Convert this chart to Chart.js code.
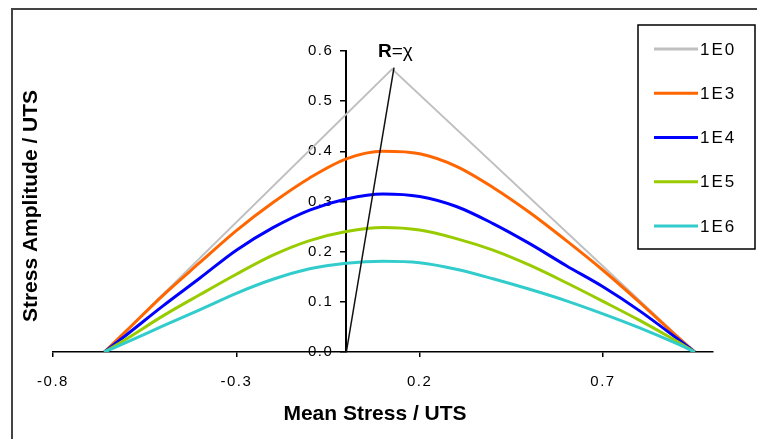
<!DOCTYPE html>
<html>
<head>
<meta charset="utf-8">
<script src="https://cdn.jsdelivr.net/npm/chart.js@4.4.1/dist/chart.umd.min.js"></script>
<style>
    html, body { margin: 0; padding: 0; background: #fff; }
    #wrap { width: 757px; height: 439px; }
</style>
</head>
<body>
<div id="wrap"><canvas id="chart" width="757" height="439"></canvas></div>
<script>
// Data ------------------------------------------------------------------------------

const meanStress = [-0.66, -0.6, -0.5, -0.4, -0.3, -0.2, -0.1, 0.0, 0.1, 0.2, 0.3, 0.4, 0.5, 0.6, 0.7, 0.8, 0.9, 0.95];
const amp1E3 = [0, 0.042, 0.113, 0.178, 0.242, 0.298, 0.347, 0.385, 0.400, 0.395, 0.370, 0.328, 0.278, 0.222, 0.163, 0.099, 0.032, 0];
const amp1E4 = [0, 0.034, 0.092, 0.147, 0.203, 0.248, 0.283, 0.305, 0.315, 0.310, 0.290, 0.256, 0.216, 0.172, 0.130, 0.082, 0.028, 0];
const amp1E5 = [0, 0.026, 0.072, 0.114, 0.155, 0.193, 0.222, 0.240, 0.248, 0.243, 0.226, 0.203, 0.173, 0.138, 0.101, 0.063, 0.022, 0];
const amp1E6 = [0, 0.019, 0.052, 0.084, 0.117, 0.145, 0.166, 0.177, 0.181, 0.178, 0.165, 0.146, 0.125, 0.102, 0.076, 0.048, 0.017, 0];

// 1E0 is the straight triangle
const meanStress1E0 = [-0.66, 0.125, 0.95];
const amp1E0 = [0, 0.564, 0];

// R = chi line out of the origin
const rLineX = [0, 0.13];
const rLineY = [0, 0.567];

const seriesLabels = ['1E0', '1E3', '1E4', '1E5', '1E6'];
const seriesColors = ['#c0c0c0', '#ff6600', '#0000ff', '#99cc00', '#33cccc'];

const xTicks = [-0.8, -0.3, 0.2, 0.7];
const yTicks = [0.0, 0.1, 0.2, 0.3, 0.4, 0.5, 0.6];

// Helpers ---------------------------------------------------------------------------

let toPoints = function (xs, ys) {
    return xs.map(function (x, i) {
        return {x: x, y: ys[i]};
    });
};

let series = [
    toPoints(meanStress1E0, amp1E0),
    toPoints(meanStress, amp1E3),
    toPoints(meanStress, amp1E4),
    toPoints(meanStress, amp1E5),
    toPoints(meanStress, amp1E6)
];

let datasets = series.map(function (pts, i) {
    return {
        label: seriesLabels[i],
        data: pts,
        borderColor: seriesColors[i],
        borderWidth: i === 0 ? 2 : 3,
        pointRadius: 0,
        cubicInterpolationMode: i === 0 ? 'default' : 'monotone',
        tension: 0,
        order: 5 - i
    };
});

datasets.push({
    label: 'R',
    data: toPoints(rLineX, rLineY),
    borderColor: '#111',
    borderWidth: 1.5,
    pointRadius: 0,
    order: 0
});

// Overlay: frame, titles, R label, legend box ------------------------------------------

const TICK_SPACING = '1.5px';
const Y_LABEL_GAP = 13;

let overlay = {
    id: 'overlay',
    beforeUpdate: function (chart) {
        chart.ctx.letterSpacing = TICK_SPACING;
    },
    afterLayout: function (chart) {
        // a y axis placed at x=0 ignores ticks.padding, so push its labels left here
        chart.scales.y.getLabelItems().forEach(function (item) {
            item.options.translation[0] -= Y_LABEL_GAP;
        });
    },
    beforeDraw: function (chart) {
        let ctx = chart.ctx;
        ctx.letterSpacing = TICK_SPACING;
        ctx.save();
        ctx.strokeStyle = '#444';
        ctx.lineWidth = 2;
        ctx.strokeRect(12, 9, 800, 500);
        ctx.restore();
    },
    afterDraw: function (chart) {
        let ctx = chart.ctx;
        let xs = chart.scales.x;
        let ys = chart.scales.y;

        ctx.save();
        ctx.letterSpacing = '0px';
        ctx.fillStyle = '#000';

        // axis titles
        ctx.font = 'bold 21px Arial';
        ctx.textAlign = 'center';
        ctx.textBaseline = 'middle';
        ctx.fillText('Mean Stress / UTS', 375, 414);
        ctx.save();
        ctx.translate(31, 206);
        ctx.rotate(-Math.PI / 2);
        ctx.fillText('Stress Amplitude / UTS', 0, 0);
        ctx.restore();

        // R = chi label above the end of the line
        let lx = xs.getPixelForValue(rLineX[1]) - 16;
        let ly = ys.top + 6;
        ctx.textAlign = 'left';
        ctx.textBaseline = 'alphabetic';
        ctx.font = 'bold 19px Arial';
        ctx.fillText('R', lx, ly);
        let w = ctx.measureText('R').width;
        ctx.font = '19px Arial';
        ctx.fillText('=\u03c7', lx + w, ly);

        // legend
        ctx.fillStyle = '#fff';
        ctx.fillRect(638, 25, 117, 224);
        ctx.strokeStyle = '#000';
        ctx.lineWidth = 1.5;
        ctx.strokeRect(638, 25, 117, 224);

        ctx.font = '17px Arial';
        ctx.letterSpacing = '2px';
        ctx.textBaseline = 'middle';
        seriesLabels.forEach(function (label, i) {
            let cy = 49 + i * 44.25;
            ctx.strokeStyle = seriesColors[i];
            ctx.lineWidth = 3;
            ctx.beginPath();
            ctx.moveTo(654, cy);
            ctx.lineTo(698, cy);
            ctx.stroke();
            ctx.fillStyle = '#000';
            ctx.fillText(label, 700, cy + 1);
        });

        ctx.restore();
    }
};

// Chart -----------------------------------------------------------------------------

let tickFont = {family: 'Arial', size: 15};

new Chart(document.getElementById('chart').getContext('2d'), {
    type: 'line',
    data: {datasets: datasets},
    plugins: [overlay],
    options: {
        responsive: false,
        animation: false,
        layout: {padding: {left: 53, right: 44, top: 51, bottom: 0}},
        plugins: {
            legend: {display: false},
            tooltip: {enabled: false}
        },
        scales: {
            x: {
                type: 'linear',
                min: -0.8,
                max: 1.0,
                afterBuildTicks: function (scale) {
                    scale.ticks = xTicks.map(function (v) { return {value: v}; });
                },
                afterFit: function (scale) {
                    scale.height = 87;
                },
                grid: {drawOnChartArea: false, tickLength: 5, color: '#000', lineWidth: 1.5},
                border: {color: '#000', width: 1.5},
                ticks: {
                    color: '#000',
                    font: tickFont,
                    padding: 16,
                    maxRotation: 0,
                    callback: function (v) { return v.toFixed(1); }
                }
            },
            y: {
                type: 'linear',
                position: {x: 0},
                min: 0,
                max: 0.6,
                afterBuildTicks: function (scale) {
                    scale.ticks = yTicks.map(function (v) { return {value: v}; });
                },
                afterFit: function (scale) {
                    scale.width = 0;
                },
                grid: {drawOnChartArea: false, tickLength: 5, color: '#000', lineWidth: 1.5},
                border: {color: '#000', width: 2},
                ticks: {
                    color: '#000',
                    font: tickFont,
                    callback: function (v) { return v.toFixed(1); }
                }
            }
        }
    }
});
</script>
</body>
</html>
